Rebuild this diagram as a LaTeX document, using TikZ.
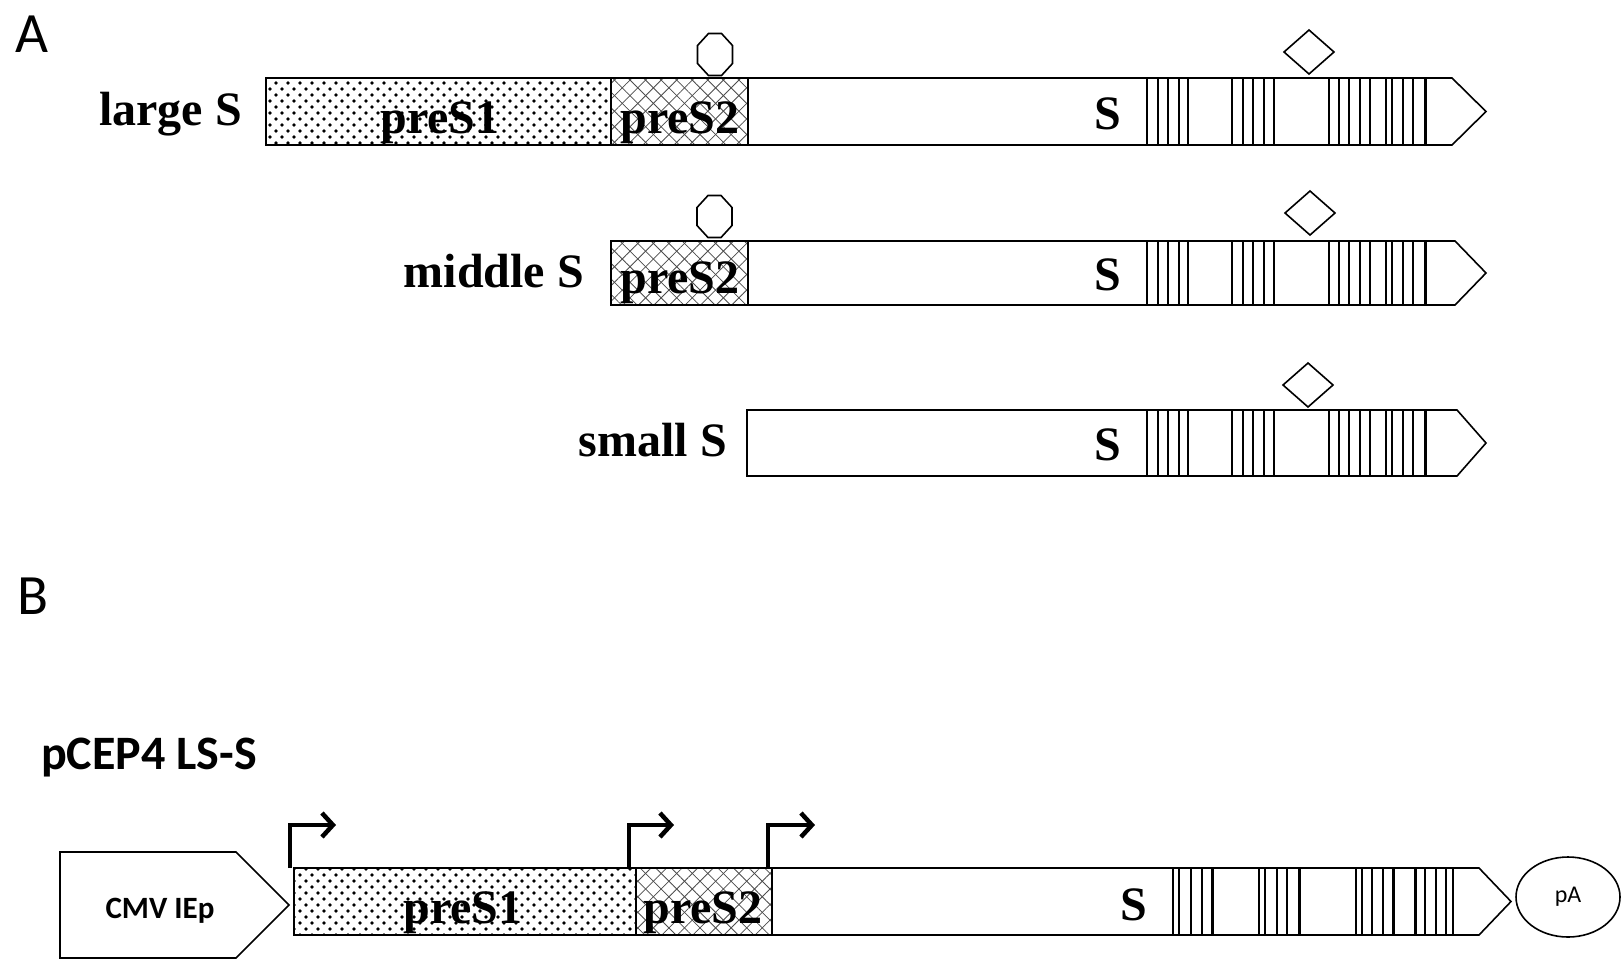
\documentclass[tikz,border=0pt]{standalone}
\usepackage{fontspec}
\setmainfont{Liberation Serif}
\newfontfamily\calib{Carlito}
\usetikzlibrary{patterns.meta,arrows.meta,shapes.geometric}
\newcommand\dotpat[1]{%
  \fill[pattern={Dots[distance=12pt,radius=1.9pt]}] #1;
  \fill[pattern={Dots[distance=12pt,radius=1.9pt,xshift=6pt,yshift=6pt]}] #1;}
\newcommand\xhatpat[1]{%
  \fill[pattern={Lines[angle=45,distance=11pt,line width=0.8pt]},pattern color=black!70] #1;
  \fill[pattern={Lines[angle=-45,distance=11pt,line width=0.8pt]},pattern color=black!70] #1;}
\newcommand\octg[2]{\draw[outl] ({#1+6.5},{#2-21}) -- ({#1+17.5},{#2-9}) -- ({#1+17.5},{#2+9}) -- ({#1+6.5},{#2+21}) -- ({#1-6.5},{#2+21}) -- ({#1-17.5},{#2+9}) -- ({#1-17.5},{#2-9}) -- ({#1-6.5},{#2-21}) -- cycle;}
\newcommand\dmd[2]{\draw[outl] ({#1},{#2-22}) -- ({#1+25},{#2}) -- ({#1},{#2+22}) -- ({#1-25},{#2}) -- cycle;}
% #1 xstart, #2 top, #3 bottom, #4 rect end, #5 tip
\newcommand\sarrow[5]{\draw[outl] (#1,#2) -- (#4,#2) -- (#5,{(#2+#3)/2}) -- (#4,#3) -- (#1,#3) -- cycle;}
\newcommand\astripes[2]{%
  \foreach \xx in {1147,1158,1168,1179,1188,1232,1243,1253,1264,1274,1329,1339,1349,1360,1370,1386,1392,1403,1413}
    \draw[stripe] (\xx,#1) -- (\xx,#2);
  \draw[stripe,line width=3pt] (1425,#1) -- (1425,#2);}
\begin{document}
\begin{tikzpicture}[x=1pt,y=-1pt,
  outl/.style={draw=black,line width=1.6pt,line join=miter},
  stripe/.style={draw=black,line width=1.5pt},
  lab/.style={font=\fontsize{48}{52}\selectfont\bfseries,inner sep=0pt},
  panel/.style={font=\calib\fontsize{57}{60}\selectfont,inner sep=0pt},
  prom/.style={line width=4.5pt,-{Straight Barb[length=11pt,width=24pt]}}]
\useasboundingbox (0,0) rectangle (1621,959);
\fill[white] (0,0) rectangle (1621,959);

% ---------- Panel A ----------
\node[panel,anchor=base west] (A) at (15,52) {A};

% large S
\dotpat{(266,78) rectangle (611,145)}
\xhatpat{(611,78) rectangle (748,145)}
\draw[outl] (266,78) rectangle (611,145);
\draw[outl] (611,78) rectangle (748,145);
\sarrow{748}{78}{145}{1452}{1486}
\astripes{78}{145}
\octg{715}{54.5}
\dmd{1309}{52}
\node[lab,anchor=base east] (lgS) at (242,125) {large S};
\node[lab,anchor=base] (p1a) at (440,133) {preS1};
\node[lab,anchor=base] (p2a) at (680,133) {preS2};
\node[lab,anchor=base] (sa) at (1108,129) {S};

% middle S
\xhatpat{(611,241) rectangle (748,305)}
\draw[outl] (611,241) rectangle (748,305);
\sarrow{748}{241}{305}{1455}{1486}
\astripes{241}{305}
\octg{714.5}{216.5}
\dmd{1310}{213}
\node[lab,anchor=base east] (mdS) at (584,287) {middle S};
\node[lab,anchor=base] (p2b) at (680,293) {preS2};
\node[lab,anchor=base] (sb) at (1108,290) {S};

% small S
\sarrow{747}{410}{476}{1457}{1486}
\astripes{410}{476}
\dmd{1308}{385}
\node[lab,anchor=base east] (smS) at (727,456) {small S};
\node[lab,anchor=base] (sc) at (1108,460) {S};

% ---------- Panel B ----------
\node[panel,anchor=base west] (B) at (17,614) {B};
\node[font=\calib\bfseries\fontsize{48}{52}\selectfont,inner sep=0pt,anchor=base west] (title) at (41,769) {pCEP4 LS-S};

% CMV promoter
\draw[outl] (60,852) -- (236,852) -- (289,905) -- (236,958) -- (60,958) -- cycle;
\node[font=\calib\bfseries\fontsize{31}{33}\selectfont,inner sep=0pt,anchor=base] (cmv) at (160,918) {CMV IEp};

\dotpat{(294,868) rectangle (636,935)}
\xhatpat{(636,868) rectangle (772,935)}
\draw[outl] (294,868) rectangle (636,935);
\draw[outl] (636,868) rectangle (772,935);
\sarrow{772}{868}{935}{1479}{1511}
\foreach \xx in {1173,1179,1191,1202,1259,1265,1277,1287,1356,1362,1372,1383,1425,1436,1446,1453}
  \draw[stripe] (\xx,868) -- (\xx,935);
\foreach \xx in {1212,1299,1393,1415}
  \draw[stripe,line width=3pt] (\xx,868) -- (\xx,935);
\node[lab,anchor=base] (p1B) at (463,923) {preS1};
\node[lab,anchor=base] (p2B) at (703,923) {preS2};
\node[lab,anchor=base] (sB) at (1134,920) {S};

% pA
\node[draw=black,line width=1.6pt,ellipse,minimum width=104pt,minimum height=80pt,inner sep=0pt,
      font=\calib\fontsize{24}{26}\selectfont] (pA) at (1568,897) {pA};

% promoter arrows
\coordinate (pr1) at (290,868); \coordinate (pr1e) at (336,825);
\coordinate (pr2) at (629,868); \coordinate (pr2e) at (674,825);
\coordinate (pr3) at (768,868); \coordinate (pr3e) at (815,825);
\draw[prom] (pr1) |- (pr1e);
\draw[prom] (pr2) |- (pr2e);
\draw[prom] (pr3) |- (pr3e);
\end{tikzpicture}
\end{document}
